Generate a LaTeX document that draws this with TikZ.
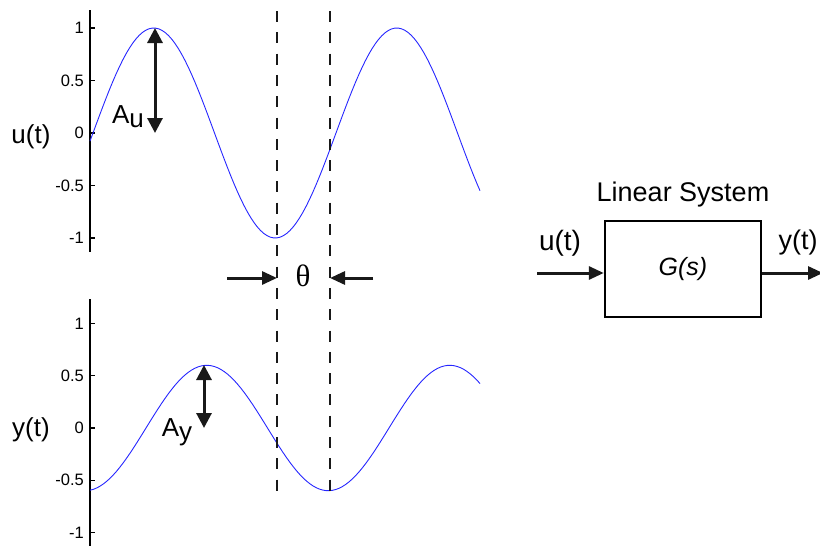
\documentclass[tikz,border=0pt]{standalone}
\usepackage{fontspec}
\setmainfont{Liberation Sans}
\newfontfamily\thetafont{Liberation Serif}
\usetikzlibrary{arrows.meta, positioning}

\begin{document}
\begin{tikzpicture}[x=1pt, y=-1pt,
    tick/.style={font=\fontsize{16.5}{18}\selectfont, anchor=east, inner sep=0pt},
    lbl/.style={font=\fontsize{26}{28}\selectfont, inner sep=0pt},
    wave/.style={blue!85!white, line width=0.9pt},
    guide/.style={line width=2.6pt, dash pattern=on 11pt off 10.3pt, black!90},
    amp/.style={{Triangle[length=15pt,width=15pt]}-{Triangle[length=15pt,width=15pt]}, line width=3pt, black!90},
    arrow/.style={-{Triangle[length=15pt,width=13pt]}, line width=3pt, black!90},
    block/.style={draw, line width=2.4pt, minimum width=156pt, minimum height=96pt}
]
    \useasboundingbox (0,0) rectangle (820,546);

    % upper plot: u(t)
    \draw[line width=1.8pt] (90,10) -- (90,252);
    \foreach \v [count=\i] in {1,0.5,0,-0.5,-1} {
        \draw[line width=1.2pt] (90,{133-105*\v}) -- ++(5,0);
        \node[tick] (ut\i) at (84,{133-105*\v}) {\v};
    }
    \draw[wave] plot[domain=90:480, samples=120] (\x, {133-105*sin((\x-93)*1.48148)});
    \node[lbl] (ulab) at (31,137) {u(t)};

    % lower plot: y(t)
    \draw[line width=1.8pt] (90,299) -- (90,546);
    \foreach \v [count=\i] in {1,0.5,0,-0.5,-1} {
        \draw[line width=1.2pt] (90,{428-104.5*\v}) -- ++(5,0);
        \node[tick] (yt\i) at (84,{428-104.5*\v}) {\v};
    }
    \draw[wave] plot[domain=90:480, samples=120] (\x, {428-62.7*sin((\x-146)*1.48148)});
    \node[lbl] (ylab) at (31,430) {y(t)};

    % amplitudes
    \coordinate (upk) at (155,28);
    \coordinate (uzero) at (155,133);
    \draw[amp] (upk) -- (uzero);
    \node[lbl] (aulab) at (128,117) {A\raisebox{-4pt}{u}};
    \coordinate (ypk) at (204,365);
    \coordinate (yzero) at (204,428);
    \draw[amp] (ypk) -- (yzero);
    \node[lbl] (aylab) at (177,432) {A\raisebox{-4pt}{y}};

    % phase shift
    \coordinate (d1top) at (277,11);
    \coordinate (d1bot) at (277,491);
    \coordinate (d2top) at (330,11);
    \coordinate (d2bot) at (330,491);
    \draw[guide] (d1top) -- (d1bot);
    \draw[guide] (d2top) -- (d2bot);
    \node[font=\thetafont\fontsize{31}{33}\selectfont, inner sep=0pt] (theta) at (303,276) {θ};
    \coordinate (lstart) at (227,278);
    \coordinate (rstart) at (373,278);
    \draw[arrow] (lstart) -- (lstart -| d1top);
    \draw[arrow] (rstart) -- (rstart -| d2top);

    % block diagram
    \node[block, font=\fontsize{25}{27}\itshape] (sys) at (683,269) {G(s)};
    \node[lbl, font=\fontsize{27}{29}\selectfont, above=12pt of sys] (title) {Linear System};
    \coordinate (in) at (537,273);
    \coordinate (out) at (823,273);
    \draw[arrow] (in) -- (in -| sys.west);
    \draw[arrow] (out -| sys.east) -- (out);
    \node[lbl, font=\fontsize{28}{30}\selectfont] (inlab) at (560,243) {u(t)};
    \node[lbl, font=\fontsize{27}{29}\selectfont] (outlab) at (798,243) {y(t)};
\end{tikzpicture}
\end{document}
